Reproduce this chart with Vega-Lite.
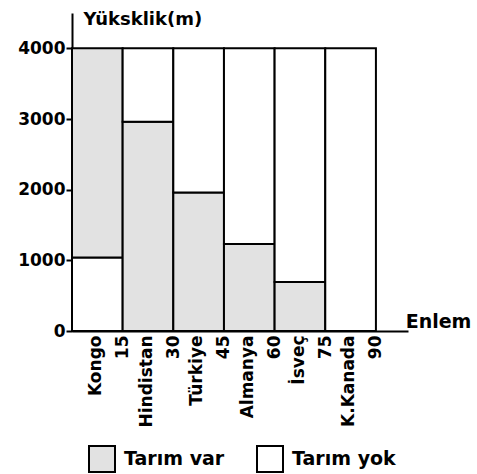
{
  "$schema": "https://vega.github.io/schema/vega-lite/v6.json",
  "width": 336,
  "height": 318,
  "autosize": {"type": "none"},
  "padding": {"left": 72, "top": 13, "right": 69, "bottom": 143},
  "background": "white",
  "config": {
    "view": {"stroke": null},
    "font": "DejaVu Sans",
    "axis": {"grid": false, "domainColor": "black", "domainWidth": 2, "tickColor": "black", "labelColor": "black", "titleColor": "black"}
  },
  "data": {
    "values": [
      {"ulke": "Kongo", "e0": 0, "e1": 15, "y0": 0, "y1": 1040, "tarim": "Tarım yok"},
      {"ulke": "Kongo", "e0": 0, "e1": 15, "y0": 1040, "y1": 4000, "tarim": "Tarım var"},
      {"ulke": "Hindistan", "e0": 15, "e1": 30, "y0": 0, "y1": 2960, "tarim": "Tarım var"},
      {"ulke": "Hindistan", "e0": 15, "e1": 30, "y0": 2960, "y1": 4000, "tarim": "Tarım yok"},
      {"ulke": "Türkiye", "e0": 30, "e1": 45, "y0": 0, "y1": 1960, "tarim": "Tarım var"},
      {"ulke": "Türkiye", "e0": 30, "e1": 45, "y0": 1960, "y1": 4000, "tarim": "Tarım yok"},
      {"ulke": "Almanya", "e0": 45, "e1": 60, "y0": 0, "y1": 1230, "tarim": "Tarım var"},
      {"ulke": "Almanya", "e0": 45, "e1": 60, "y0": 1230, "y1": 4000, "tarim": "Tarım yok"},
      {"ulke": "İsveç", "e0": 60, "e1": 75, "y0": 0, "y1": 695, "tarim": "Tarım var"},
      {"ulke": "İsveç", "e0": 60, "e1": 75, "y0": 695, "y1": 4000, "tarim": "Tarım yok"},
      {"ulke": "K.Kanada", "e0": 75, "e1": 90, "y0": 0, "y1": 4000, "tarim": "Tarım yok"}
    ]
  },
  "mark": {"type": "bar", "stroke": "black", "strokeWidth": 2, "opacity": 1},
  "encoding": {
    "x": {
      "field": "e0", "type": "quantitative",
      "scale": {"domain": [0, 99.5], "nice": false, "zero": false},
      "axis": {
        "values": [7, 15, 22, 30, 37, 45, 52, 60, 67, 75, 82, 90],
        "labelExpr": "datum.value == 7 ? 'Kongo' : datum.value == 22 ? 'Hindistan' : datum.value == 37 ? 'Türkiye' : datum.value == 52 ? 'Almanya' : datum.value == 67 ? 'İsveç' : datum.value == 82 ? 'K.Kanada' : datum.label",
        "labelAngle": -90, "labelAlign": "right", "labelBaseline": "middle",
        "labelFontSize": 17, "labelFontWeight": "bold", "labelPadding": 4, "ticks": false,
        "labelOverlap": false, "labelBound": false, "labelFlush": false,
        "title": "Enlem", "titleFontSize": 19, "titleFontWeight": "bold",
        "titleX": 366, "titleY": -10, "titleAlign": "center", "titleBaseline": "middle", "titleAnchor": null
      }
    },
    "x2": {"field": "e1"},
    "y": {
      "field": "y0", "type": "quantitative",
      "scale": {"domain": [0, 4500], "nice": false},
      "axis": {
        "values": [0, 1000, 2000, 3000, 4000], "format": "d",
        "labelFontSize": 17, "labelFontWeight": "bold", "tickSize": 6, "tickWidth": 2, "labelPadding": 1,
        "title": "Yüksklik(m)", "titleAngle": 0, "titleFontSize": 18, "titleFontWeight": "bold",
        "titleX": 11, "titleY": 6, "titleAlign": "left", "titleBaseline": "middle", "titleAnchor": null
      }
    },
    "y2": {"field": "y1"},
    "fill": {
      "field": "tarim", "type": "nominal",
      "scale": {"domain": ["Tarım var", "Tarım yok"], "range": ["#e2e2e2", "#ffffff"]},
      "legend": {
        "title": null, "orient": "none", "legendX": 16, "legendY": 432, "direction": "horizontal",
        "symbolType": "square", "symbolSize": 676, "symbolStrokeColor": "black", "symbolStrokeWidth": 2,
        "symbolOpacity": 1, "labelFontSize": 19, "labelFontWeight": "bold", "labelColor": "black", "columnPadding": 28, "labelOffset": 8
      }
    }
  }
}
